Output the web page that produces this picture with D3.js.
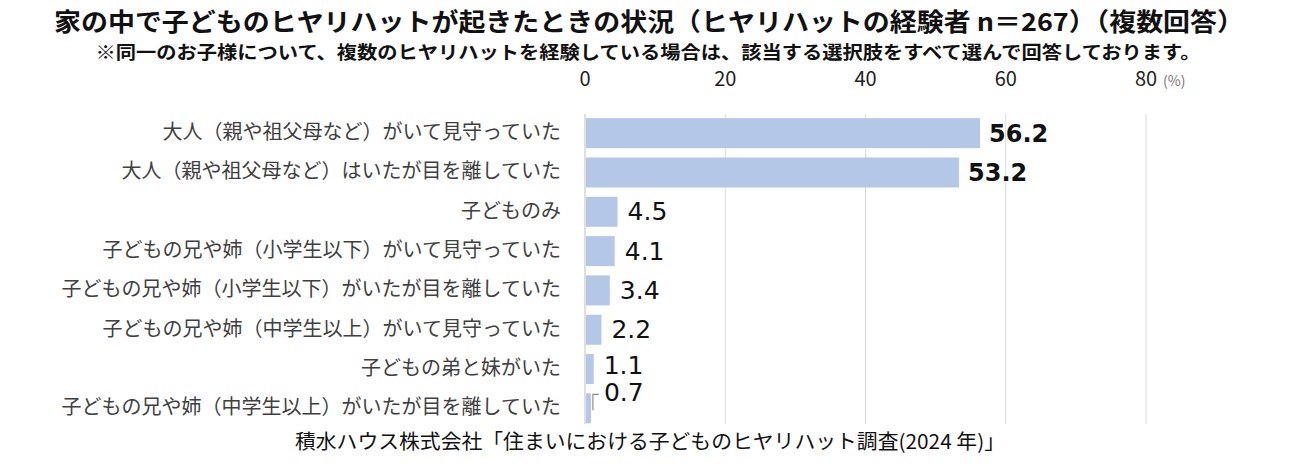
<!DOCTYPE html>
<html>
<head>
<meta charset="utf-8">
<script src="https://cdn.jsdelivr.net/npm/d3@7"></script>
<style>
body { margin:0; background:#fff; }
text { font-family: "Noto Sans CJK JP", "Noto Sans", sans-serif; }
</style>
</head>
<body>
<script>
var categories = [
  "大人（親や祖父母など）がいて見守っていた",
  "大人（親や祖父母など）はいたが目を離していた",
  "子どものみ",
  "子どもの兄や姉（小学生以下）がいて見守っていた",
  "子どもの兄や姉（小学生以下）がいたが目を離していた",
  "子どもの兄や姉（中学生以上）がいて見守っていた",
  "子どもの弟と妹がいた",
  "子どもの兄や姉（中学生以上）がいたが目を離していた"
];
var values = [56.2, 53.2, 4.5, 4.1, 3.4, 2.2, 1.1, 0.7];
var ticks = [0, 20, 40, 60, 80];

var width = 1307, height = 464;
var svg = d3.select("body").append("svg")
  .attr("width", width).attr("height", height);

// タイトル
svg.append("text").attr("x", 649).attr("y", 31)
  .attr("text-anchor", "middle").attr("font-size", 25).attr("font-weight", "bold")
  .attr("fill", "#111")
  .attr("textLength", 1190).attr("lengthAdjust", "spacingAndGlyphs")
  .text("家の中で子どものヒヤリハットが起きたときの状況（ヒヤリハットの経験者 n＝267）（複数回答）");
svg.append("text").attr("x", 648).attr("y", 59)
  .attr("text-anchor", "middle").attr("font-size", 18).attr("font-weight", "bold")
  .attr("fill", "#111")
  .attr("textLength", 1105).attr("lengthAdjust", "spacingAndGlyphs")
  .text("※同一のお子様について、複数のヒヤリハットを経験している場合は、該当する選択肢をすべて選んで回答しております。");

var x = d3.scaleLinear().domain([0, 80]).range([585, 1146]);
var y = d3.scaleBand().domain(categories).range([113.5, 428]).paddingInner(0.237).paddingOuter(0.1185);

// グリッド
svg.selectAll("line.grid")
  .data(ticks)
  .enter()
  .append("line")
  .attr("x1", function(d) { return x(d); })
  .attr("x2", function(d) { return x(d); })
  .attr("y1", 114).attr("y2", 424)
  .style("stroke", function(d) { return d === 0 ? "#bfbfbf" : "#d9d9d9"; })
  .style("stroke-width", 1);

// 目盛
svg.selectAll("text.tick")
  .data(ticks)
  .enter()
  .append("text")
  .attr("x", function(d) { return x(d); })
  .attr("y", 86)
  .attr("text-anchor", "middle")
  .attr("font-size", 20)
  .attr("fill", "#222")
  .text(function(d) { return d; });
svg.append("text").attr("x", x(80) + 17).attr("y", 86)
  .attr("font-size", 14).attr("fill", "#777").text("(%)");

// 棒
svg.selectAll("rect.bar")
  .data(values)
  .enter()
  .append("rect")
  .attr("x", x(0) + 1)
  .attr("y", function(d, i) { return y(categories[i]); })
  .attr("width", function(d) { return x(d) - x(0); })
  .attr("height", y.bandwidth())
  .attr("fill", "#b4c7e7");

// カテゴリ
svg.selectAll("text.cat")
  .data(categories)
  .enter()
  .append("text")
  .attr("x", 561)
  .attr("y", function(d) { return y(d) + y.bandwidth() / 2 + 6; })
  .attr("text-anchor", "end")
  .attr("font-size", 20)
  .attr("fill", "#404040")
  .text(function(d) { return d; });

// 数値ラベル
svg.selectAll("text.val")
  .data(values)
  .enter()
  .append("text")
  .attr("x", function(d, i) { return i === 7 ? x(d) + 14 : x(d) + (d > 10 ? 10 : 11); })
  .attr("y", function(d, i) {
    var c = y(categories[i]) + y.bandwidth() / 2;
    if (i === 7) return c - 7;
    if (i === 6) return c + 5;
    return c + 8.5;
  })
  .style("font-family", "'DejaVu Sans', sans-serif")
  .attr("font-size", function(d) { return d > 10 ? 24 : 25; })
  .attr("font-weight", function(d) { return d > 10 ? "bold" : "normal"; })
  .attr("fill", "#111")
  .text(function(d) { return d.toFixed(1); });

// 0.7 の引き出し線
var last = values.length - 1;
var cy = y(categories[last]) + y.bandwidth() / 2;
var lx = x(values[last]) + 3;
svg.append("path")
  .attr("d", "M" + lx + "," + (cy + 2) + " L" + lx + "," + (cy - 14) + " L" + (lx + 6) + "," + (cy - 14))
  .attr("fill", "none").style("stroke", "#8c8c8c").style("stroke-width", 1.2);

// 出典
svg.append("text").attr("x", 650).attr("y", 449)
  .attr("text-anchor", "middle").attr("font-size", 20).attr("fill", "#111")
  .attr("textLength", 710).attr("lengthAdjust", "spacingAndGlyphs")
  .text("積水ハウス株式会社「住まいにおける子どものヒヤリハット調査(2024 年)」");
</script>
</body>
</html>
